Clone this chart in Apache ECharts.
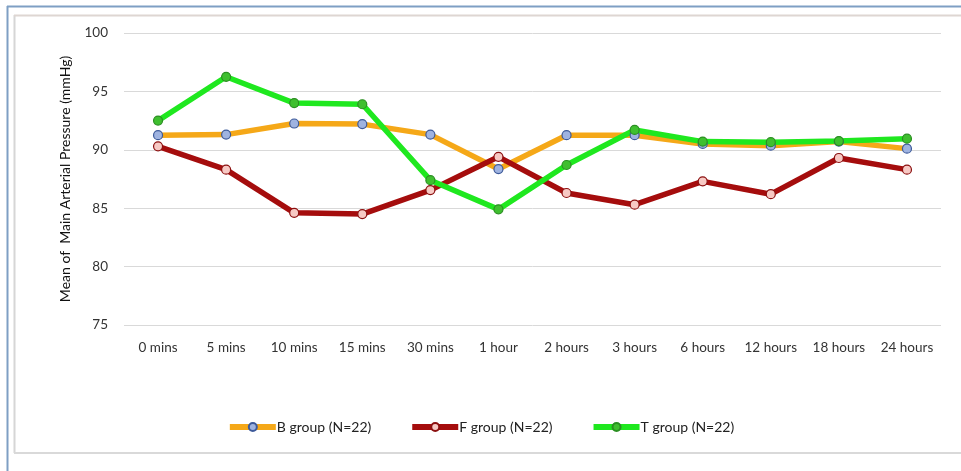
<!DOCTYPE html>
<html><head><meta charset="utf-8">
<script src="https://cdn.jsdelivr.net/npm/echarts@6/dist/echarts.min.js"></script>
<style>html,body{margin:0;padding:0;background:#fff}#c{width:961px;height:471px}</style>
</head><body><div id="c"></div>
<script>
const categories = ['0 mins','5 mins','10 mins','15 mins','30 mins','1 hour','2 hours','3 hours','6 hours','12 hours','18 hours','24 hours'];
const bGroup = [91.25, 91.3, 92.25, 92.2, 91.3, 88.35, 91.25, 91.25, 90.5, 90.35, 90.7, 90.1];
const fGroup = [90.3, 88.3, 84.6, 84.5, 86.55, 89.4, 86.3, 85.3, 87.3, 86.2, 89.3, 88.3];
const tGroup = [92.5, 96.25, 94.0, 93.9, 87.4, 84.9, 88.7, 91.7, 90.7, 90.65, 90.75, 90.95];
const yTicks = {min: 75, max: 100, interval: 5};

const chart = echarts.init(document.getElementById('c'));
const font = 'Lato, "Open Sans", sans-serif';
function s(name, data, color, markerFill, markerBorder) {
  return {
    name, type: 'line', data,
    symbol: 'circle', symbolSize: 9,
    lineStyle: {color, width: 5.5},
    itemStyle: {color: markerFill, borderColor: markerBorder, borderWidth: 1.2},
    emphasis: {disabled: true}
  };
}
chart.setOption({
  animation: false,
  graphic: [
    {type: 'line', shape: {x1: 7.5, y1: 6, x2: 7.5, y2: 471}, style: {stroke: '#7f9fc4', lineWidth: 2}},
    {type: 'line', shape: {x1: 7, y1: 6.5, x2: 961, y2: 6.5}, style: {stroke: '#7f9fc4', lineWidth: 2}},
    {type: 'line', shape: {x1: 14.5, y1: 15, x2: 14.5, y2: 453}, style: {stroke: '#d6d6d6', lineWidth: 2}},
    {type: 'line', shape: {x1: 14, y1: 15.5, x2: 961, y2: 15.5}, style: {stroke: '#ded6d2', lineWidth: 2}},
    {type: 'line', shape: {x1: 14, y1: 453, x2: 961, y2: 453}, style: {stroke: '#d9d9d9', lineWidth: 2}}
  ],
  grid: {left: 124, right: 20, top: 33, bottom: 146, containLabel: false},
  legend: {
    bottom: 32, left: 'center', itemGap: 38, itemWidth: 46, itemHeight: 10,
    lineStyle: {width: 6},
    textStyle: {fontFamily: font, fontSize: 14, color: '#222', padding: [0,0,0,-4]},
    data: ['B group (N=22)', 'F group (N=22)', 'T group (N=22)']
  },
  xAxis: {
    type: 'category', data: categories, boundaryGap: true,
    axisLine: {show: false}, axisTick: {show: false},
    axisLabel: {fontFamily: font, fontSize: 13.5, color: '#333', margin: 16, interval: 0}
  },
  yAxis: {
    type: 'value', min: yTicks.min, max: yTicks.max, interval: yTicks.interval,
    name: 'Mean of  Main Arterial Pressure (mmHg)', nameLocation: 'middle', nameGap: 52,
    nameTextStyle: {fontFamily: font, fontSize: 14, color: '#111'},
    axisLine: {show: false}, axisTick: {show: false},
    axisLabel: {fontFamily: font, fontSize: 13.5, color: '#333', margin: 16},
    splitLine: {lineStyle: {color: '#d9d9d9', width: 1}}
  },
  series: [
    s('B group (N=22)', bGroup, '#f5a818', '#9fb3e0', '#3d5a9a'),
    s('F group (N=22)', fGroup, '#a50d0d', '#f7c9c4', '#8b1010'),
    s('T group (N=22)', tGroup, '#1fe81f', '#3fbf2f', '#2b8f22')
  ]
});
</script></body></html>
